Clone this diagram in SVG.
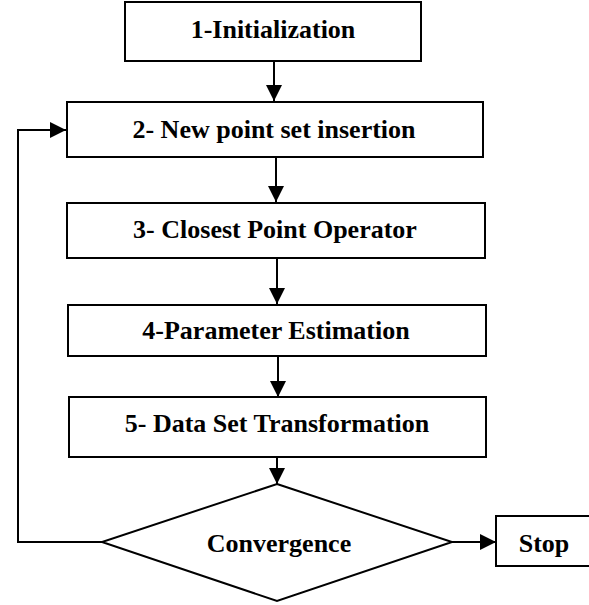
<svg xmlns="http://www.w3.org/2000/svg" width="589" height="605" viewBox="0 0 589 605">
<style>
.box{fill:#fff;stroke:#000;stroke-width:2}
.lbl{font-family:"Liberation Serif","Times New Roman",serif;font-weight:bold;font-size:26px;fill:#000;text-anchor:middle}
.con{fill:none;stroke:#000;stroke-width:2}
</style>
<defs>
<marker id="ah" markerUnits="userSpaceOnUse" markerWidth="16" markerHeight="16" viewBox="0 0 16 16" refX="16" refY="8" orient="auto">
<path d="M0,0 L16,8 L0,16 Z" fill="#000"/>
</marker>
</defs>
<rect x="0" y="0" width="589" height="605" fill="#fff"/>
<g id="connectors">
<line class="con" x1="274" y1="61" x2="274" y2="101" marker-end="url(#ah)"/>
<line class="con" x1="276" y1="157" x2="276" y2="202" marker-end="url(#ah)"/>
<line class="con" x1="277" y1="258" x2="277" y2="304" marker-end="url(#ah)"/>
<line class="con" x1="278" y1="356" x2="278" y2="397" marker-end="url(#ah)"/>
<line class="con" x1="277" y1="457" x2="277" y2="484" marker-end="url(#ah)"/>
<path class="con" d="M102,542 H18 V130 H66" marker-end="url(#ah)"/>
<line class="con" x1="452" y1="542" x2="496" y2="542" marker-end="url(#ah)"/>
</g>
<g id="n1">
<rect class="box" x="125" y="2" width="296" height="59"/>
<text class="lbl" x="273" y="38">1-Initialization</text>
</g>
<g id="n2">
<rect class="box" x="67" y="102" width="416" height="55"/>
<text class="lbl" x="274" y="138">2- New point set insertion</text>
</g>
<g id="n3">
<rect class="box" x="67" y="203" width="418" height="55"/>
<text class="lbl" x="275" y="238">3- Closest Point Operator</text>
</g>
<g id="n4">
<rect class="box" x="68" y="305" width="418" height="51"/>
<text class="lbl" x="276" y="339">4-Parameter Estimation</text>
</g>
<g id="n5">
<rect class="box" x="69" y="397" width="417" height="60"/>
<text class="lbl" x="277" y="432">5- Data Set Transformation</text>
</g>
<g id="n6">
<polygon class="box" points="277,484 452,542 277,601 102,542"/>
<text class="lbl" x="279" y="552">Convergence</text>
</g>
<g id="n7">
<rect class="box" x="496" y="516" width="100" height="50"/>
<text class="lbl" x="544" y="552">Stop</text>
</g>
</svg>
